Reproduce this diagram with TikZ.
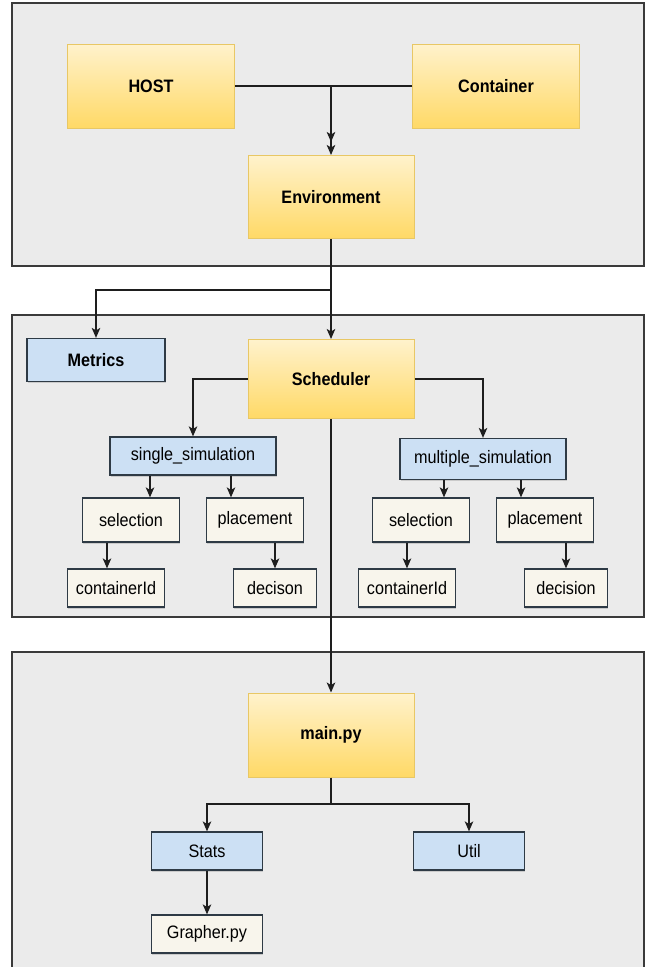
\documentclass[tikz,border=0pt]{standalone}
\usepackage{fontspec}
\setmainfont{Liberation Sans}[FakeStretch=0.9]
\usepackage{tikz}
\usetikzlibrary{arrows.meta,shadows}
\definecolor{panelgray}{HTML}{EBEBEB}
\definecolor{paneledge}{HTML}{3A3A3A}
\definecolor{goldtop}{HTML}{FFF2CC}
\definecolor{goldbot}{HTML}{FFD966}
\definecolor{goldedge}{HTML}{E8C765}
\definecolor{modblue}{HTML}{CCE0F4}
\definecolor{leafcream}{HTML}{F8F5EC}
\definecolor{boxedge}{HTML}{2E3A45}
\definecolor{wirecol}{HTML}{1E1E1E}

\begin{document}
\begin{tikzpicture}[x=1pt,y=-1pt,>={Stealth[length=10pt,width=8.5pt,inset=2.5pt]},
    font=\fontsize{18}{21}\selectfont,
    core node/.style={rectangle,draw=goldedge,line width=1pt,top color=goldtop,bottom color=goldbot,
                      minimum width=166pt,minimum height=84pt,font=\fontsize{18}{21}\selectfont\bfseries},
    module node/.style={rectangle,draw=boxedge,line width=1.2pt,fill=modblue,minimum height=38pt,
                        drop shadow={shadow xshift=.8pt,shadow yshift=-1.6pt,opacity=.3}},
    leaf node/.style={rectangle,draw=boxedge,line width=1.2pt,fill=leafcream,minimum height=38pt,
                      drop shadow={shadow xshift=.8pt,shadow yshift=-1.6pt,opacity=.3}},
    wire/.style={draw=wirecol,line width=1.3pt},
    panel/.style={fill=panelgray,draw=paneledge,line width=1.3pt}]
  \useasboundingbox[fill=white] (0,0) rectangle (645,967);
  % panels
  \path[panel] (12,3) rectangle (644,266);
  \path[panel] (12,315) rectangle (644,617);
  \fill[panelgray] (12,652) rectangle (644,967);
  \draw[paneledge,line width=1.3pt] (12,967) -- (12,652) -- (644,652) -- (644,967);

  % top panel
  \node[core node,minimum width=167pt] (HOST) at (151,86) {HOST};
  \node[core node,minimum width=167pt] (Container) at (496,86) {Container};
  \node[core node,minimum height=83pt] (Environment) at (331,197) {Environment};

  % middle panel
  \node[module node,minimum width=138pt,minimum height=43pt,font=\fontsize{18}{21}\selectfont\bfseries] (Metrics) at (96,360) {Metrics};
  \node[core node,minimum height=79pt] (Scheduler) at (331,379) {Scheduler};
  \node[module node,minimum width=166pt] (single) at (193,456) {single\_simulation};
  \node[module node,minimum width=166pt,minimum height=41pt] (multiple) at (483,459) {multiple\_simulation};
  \node[leaf node,minimum width=97pt,minimum height=44pt] (selL) at (131,520) {selection};
  \node[leaf node,minimum width=97pt,minimum height=44pt] (placeL) at (255,520) {placement};
  \node[leaf node,minimum width=97pt,minimum height=44pt] (selR) at (421,520) {selection};
  \node[leaf node,minimum width=97pt,minimum height=44pt] (placeR) at (545,520) {placement};
  \node[leaf node,minimum width=97pt] (cidL) at (116,588) {containerId};
  \node[leaf node,minimum width=83pt] (decL) at (275,588) {decison};
  \node[leaf node,minimum width=97pt] (cidR) at (407,588) {containerId};
  \node[leaf node,minimum width=83pt] (decR) at (566,588) {decision};

  % bottom panel
  \node[core node] (mainpy) at (331,735) {main.py};
  \node[module node,minimum width=111pt] (Stats) at (207,851) {Stats};
  \node[module node,minimum width=111pt] (Util) at (469,851) {Util};
  \node[leaf node,minimum width=111pt] (Grapher) at (207,934) {Grapher.py};

  \coordinate (split) at (331,290);
  \coordinate (fork) at (331,804);

  \begin{scope}[wire]
    \draw[->] (HOST.east) -| (Environment.north);
    \draw[->,shorten >=13pt] (Container.west) -| (Environment.north);
    %
    \draw[->] (Environment.south) -- (split) -| (Metrics.north);
    \draw[->] (split) -- (Scheduler.north);
    %
    \draw[->] (Scheduler.west) -| (single.north);
    \draw[->] (Scheduler.east) -| (multiple.north);
    \draw[->] ([xshift=19pt]selL.north |- single.south) -- ([xshift=19pt]selL.north);
    \draw[->] ([xshift=-24pt]placeL.north |- single.south) -- ([xshift=-24pt]placeL.north);
    \draw[->] ([xshift=23pt]selR.north |- multiple.south) -- ([xshift=23pt]selR.north);
    \draw[->] ([xshift=-24pt]placeR.north |- multiple.south) -- ([xshift=-24pt]placeR.north);
    %
    \draw[->] ([xshift=-24pt]selL.south) -- ([xshift=-24pt]selL.south |- cidL.north);
    \draw[->] (placeL.south -| decL.north) -- (decL.north);
    \draw[->] (selR.south -| cidR.north) -- (cidR.north);
    \draw[->] (placeR.south -| decR.north) -- (decR.north);
    %
    \draw[->] (Scheduler.south) -- (mainpy.north);
    \draw[->] (mainpy.south) -- (fork) -| (Stats.north);
    \draw[->] (fork) -| (Util.north);
    \draw[->] (Stats.south) -- (Grapher.north);
  \end{scope}
\end{tikzpicture}
\end{document}
